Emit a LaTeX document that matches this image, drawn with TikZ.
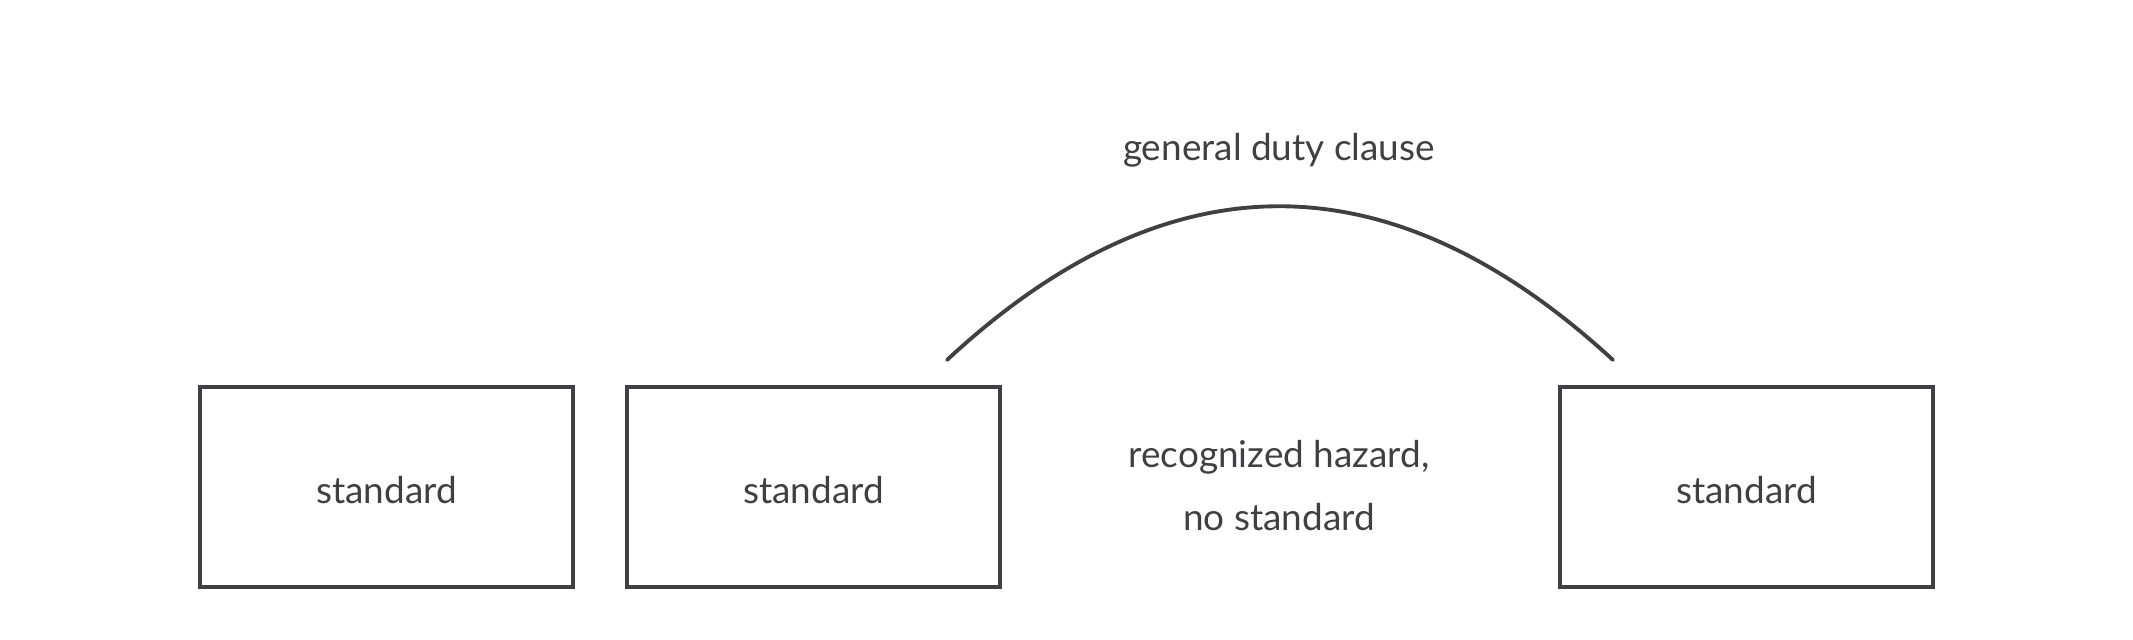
\documentclass[tikz,border=0pt]{standalone}
\usepackage{fontspec}
\setmainfont{Lato}
\definecolor{ink}{RGB}{64,64,68}
\begin{document}
\begin{tikzpicture}[x=0.01cm,y=-0.01cm,
  box/.style={draw=ink,line width=1.15pt,minimum width=373\pgflinewidth,inner sep=0pt},
  lbl/.style={text=ink,font=\fontsize{10.5}{12}\selectfont,inner sep=0pt},
  arcline/.style={draw=ink,line width=1.1pt,line cap=round}]
\useasboundingbox (0,0) rectangle (2133,640);
\draw[box] (200,387) rectangle (573,587);
\draw[box] (627,387) rectangle (1000,587);
\draw[box] (1560,387) rectangle (1933,587);
\node[lbl] (s1) at (386.5,490) {standard};
\node[lbl] (s2) at (813.5,490) {standard};
\node[lbl] (s3) at (1746.5,490) {standard};
\node[lbl] (rh) at (1279,457) {recognized hazard,};
\node[lbl] (ns) at (1279,517) {no standard};
\node[lbl] (gd) at (1279,150) {general duty clause};
\coordinate (aL) at (947,360);
\coordinate (aR) at (1613,360);
\draw[arcline] (aL) .. controls (1168,155) and (1390,155) .. (aR);
\end{tikzpicture}
\end{document}
